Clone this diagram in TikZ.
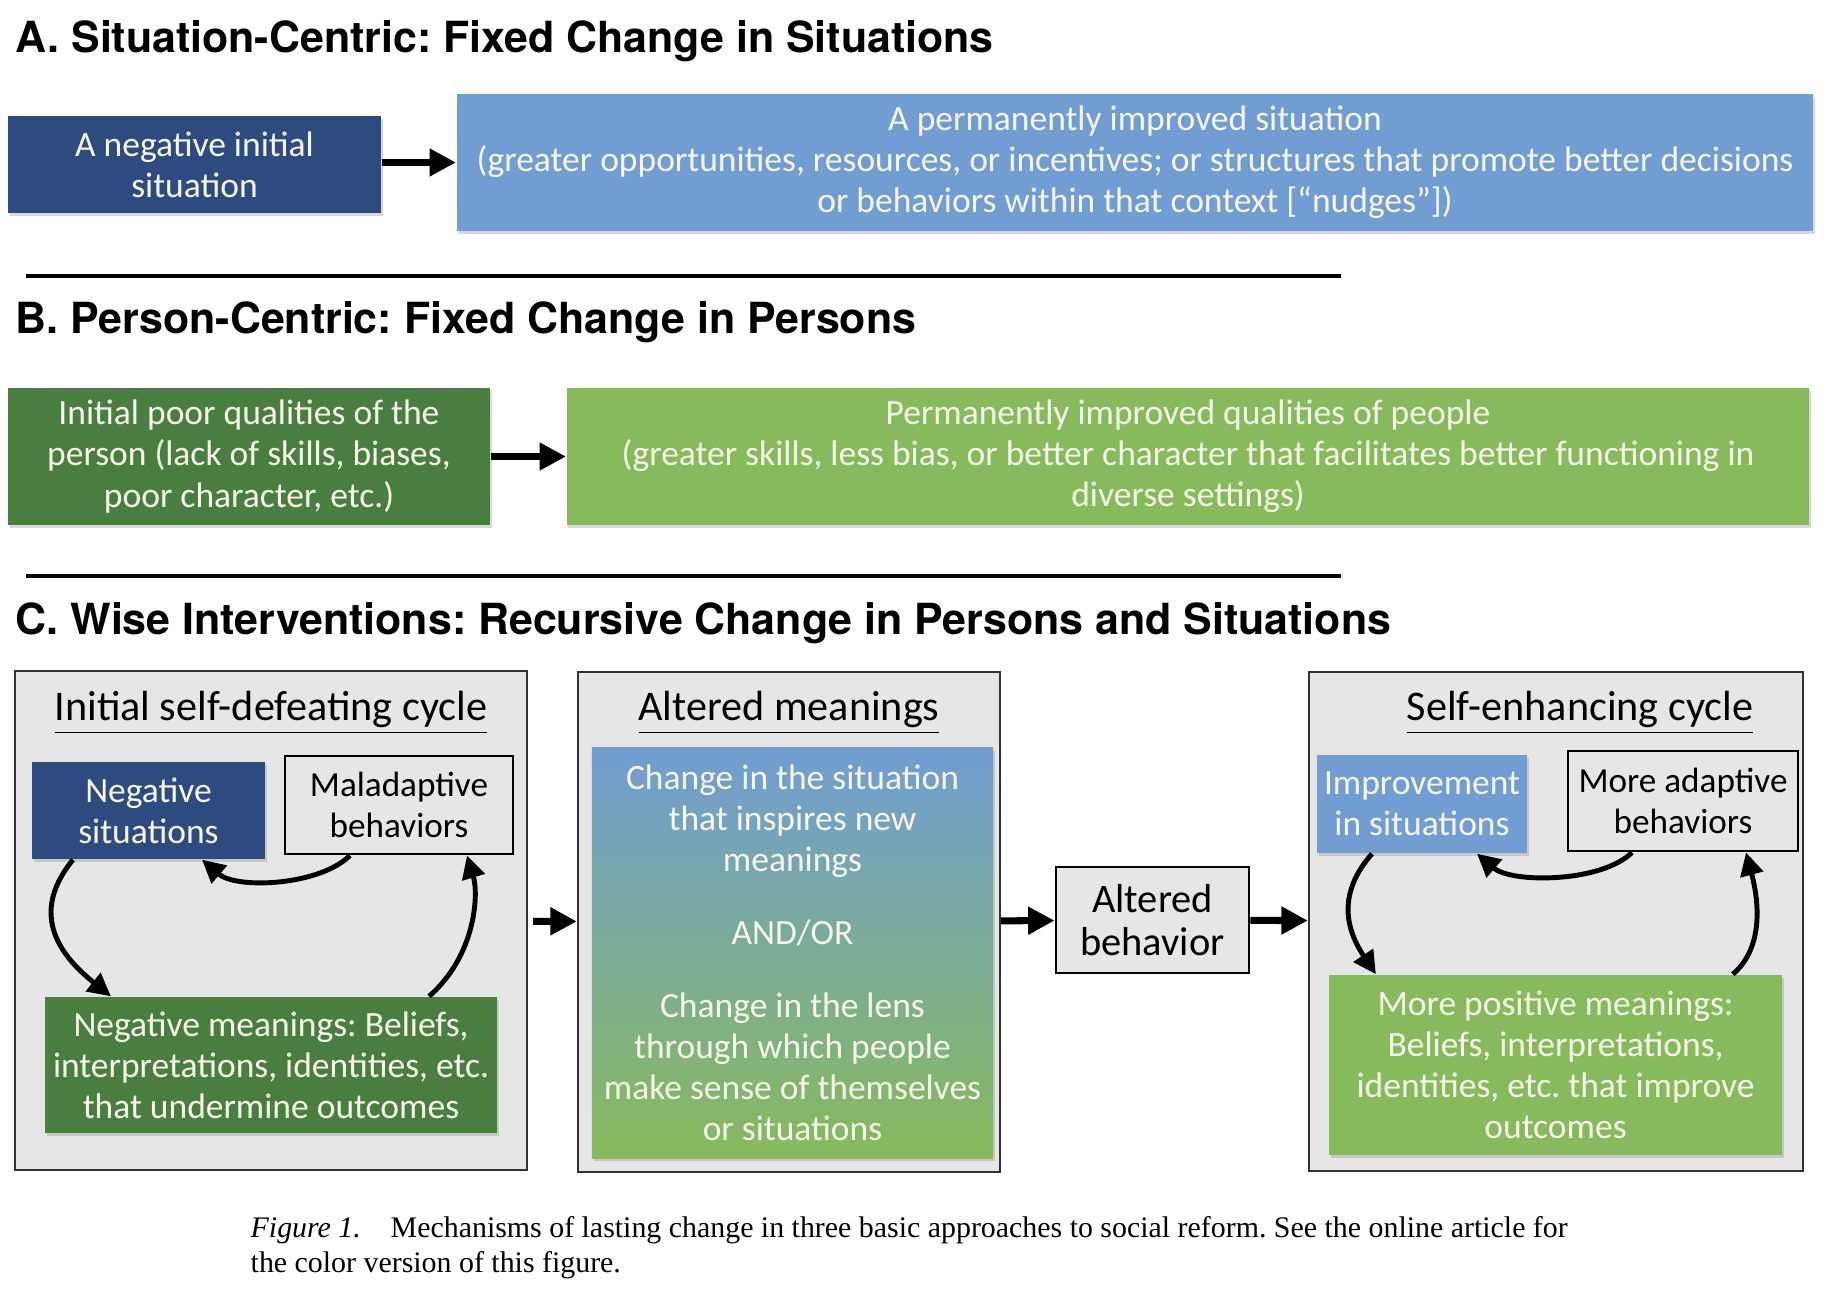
\documentclass[tikz,border=0pt]{standalone}
\usepackage{fontspec}
\setmainfont{Liberation Serif}
\newfontfamily\gillfont{Carlito}
\newfontfamily\helvfont{TeX Gyre Heros}
\usetikzlibrary{arrows.meta,shadows}
\frenchspacing

\definecolor{sitdark}{HTML}{2E4B7F}
\definecolor{sitlight}{HTML}{719DD2}
\definecolor{perdark}{HTML}{4A7E41}
\definecolor{perlight}{HTML}{87BA5C}
\definecolor{panelgray}{HTML}{E6E6E6}
\definecolor{cream}{HTML}{F6F6EA}

\begin{document}
\begin{tikzpicture}[x=0.01cm, y=-0.01cm,
    sect/.style={anchor=base west, inner sep=0pt, font=\helvfont\bfseries\fontsize{12.2}{14}\selectfont},
    cell/.style={align=center, inner sep=0pt, text=cream, font=\gillfont\fontsize{10.1}{11.7}\selectfont,
                 drop shadow={shadow xshift=0.5pt, shadow yshift=-0.8pt, opacity=0.3}},
    panel/.style={draw=black!80, semithick, fill=panelgray},
    outlined/.style={draw=black, thick, fill=panelgray, align=center, inner sep=0pt, font=\gillfont\fontsize{10}{11.7}\selectfont},
    heading/.style={inner sep=0pt, font=\gillfont\fontsize{12}{14}\selectfont},
    fat/.style={line width=2pt, -{Triangle[length=7.5pt, width=7.5pt]}},
    cyc/.style={line width=1.4pt, -{Triangle[length=6.5pt, width=6.5pt]}}]
    \fill[white] (0,0) rectangle (1842,1296);
    \useasboundingbox (0,0) rectangle (1842,1296);

    % A
    \node[sect] (ta) at (15,52) {A. Situation-Centric: Fixed Change in Situations};
    \node[cell, fill=sitdark, minimum width=3.73cm, minimum height=0.97cm] (a1) at (194.5,164.5) {A negative initial\\situation};
    \node[cell, fill=sitlight, minimum width=13.56cm, minimum height=1.37cm] (a2) at (1135,162.5) {A permanently improved situation\\(greater opportunities, resources, or incentives; or structures that promote better decisions\\or behaviors within that context [“nudges”])};
    \draw[fat] (a1.east |- a2.west) -- (a2.west);
    \draw[line width=0.9pt] (26,276) -- (1341,276);

    % B
    \node[sect] (tb) at (15,333) {B. Person-Centric: Fixed Change in Persons};
    \node[cell, fill=perdark, minimum width=4.82cm, minimum height=1.37cm] (b1) at (249,456.5) {Initial poor qualities of the\\person (lack of skills, biases,\\poor character, etc.)};
    \node[cell, fill=perlight, minimum width=12.42cm, minimum height=1.37cm] (b2) at (1188,456.5) {Permanently improved qualities of people\\(greater skills, less bias, or better character that facilitates better functioning in\\diverse settings)};
    \draw[fat] (b1) -- (b2);
    \draw[line width=0.9pt] (26,576) -- (1341,576);

    % C
    \node[sect] (tc) at (15,634) {C. Wise Interventions: Recursive Change in Persons and Situations};
    \node[panel, minimum width=5.12cm, minimum height=4.99cm] (p1) at (271,920.5) {};
    \node[panel, minimum width=4.22cm, minimum height=5cm] (p2) at (789,922) {};
    \node[panel, minimum width=4.94cm, minimum height=4.99cm] (p3) at (1556,921.5) {};

    \node[heading] (h1) at (271,713) {\underline{Initial self-defeating cycle}};
    \node[cell, fill=sitdark, minimum width=2.33cm, minimum height=0.97cm] (ns) at (148.5,810.5) {Negative\\situations};
    \node[outlined, minimum width=2.28cm, minimum height=0.98cm] (mb) at (399,805) {Maladaptive\\behaviors};
    \node[cell, fill=perdark, minimum width=4.52cm, minimum height=1.36cm] (nm) at (271,1065) {Negative meanings: Beliefs,\\interpretations, identities, etc.\\that undermine outcomes};
    \draw[cyc] ([xshift=-0.755cm]ns.south) .. controls +(-45,55) and +(-50,-40) .. ([xshift=-1.6cm]nm.north);
    \draw[cyc] ([xshift=-0.49cm]mb.south) .. controls +(-30,30) and +(35,30) .. ([xshift=0.535cm]ns.south);
    \draw[cyc] ([xshift=1.58cm]nm.north) .. controls +(46,-40) and +(12,40) .. ([xshift=0.68cm]mb.south);

    \node[heading] (h2) at (789,713) {\underline{Altered meanings}};
    \node[cell, top color=sitlight, bottom color=perlight, minimum width=4.01cm, minimum height=4.1cm] (am) at (792.5,953) {Change in the situation\\that inspires new\\meanings\\[9pt]AND/OR\\[9pt]Change in the lens\\through which people\\make sense of themselves\\or situations};

    \node[outlined, font=\gillfont\fontsize{11.5}{12.4}\selectfont, minimum width=1.93cm, minimum height=1.06cm] (ab) at (1152.5,920) {Altered\\behavior};

    \node[heading] (h3) at (1580,713) {\underline{Self-enhancing cycle}};
    \node[cell, fill=sitlight, minimum width=2.1cm, minimum height=0.98cm] (is) at (1422,804) {Improvement\\in situations};
    \node[outlined, minimum width=2.3cm, minimum height=1cm] (ma) at (1683,801) {More adaptive\\behaviors};
    \node[cell, fill=perlight, minimum width=4.53cm, minimum height=1.8cm] (mp) at (1555.5,1065) {More positive meanings:\\Beliefs, interpretations,\\identities, etc. that improve\\outcomes};
    \draw[cyc] ([xshift=-0.5cm]is.south) .. controls +(-35,40) and +(-30,-45) .. ([xshift=-1.795cm]mp.north);
    \draw[cyc] ([xshift=-0.51cm]ma.south) .. controls +(-30,30) and +(35,30) .. ([xshift=0.55cm]is.south);
    \draw[cyc] ([xshift=-0.5cm]mp.north east) .. controls +(35,-30) and +(10,38) .. ([xshift=0.63cm]ma.south);

    \draw[fat, shorten <=1.4pt] (p1) -- (p2);
    \draw[fat] (p2) -- (ab);
    \draw[fat] (ab) -- (p3);

    \node[anchor=west, align=left, inner sep=0pt, font=\fontsize{8.5}{10}\selectfont] (cap) at (250,1247.5) {\textit{Figure 1.}\hspace{1em}Mechanisms of lasting change in three basic approaches to social reform. See the online article for\\the color version of this figure.};
\end{tikzpicture}
\end{document}
